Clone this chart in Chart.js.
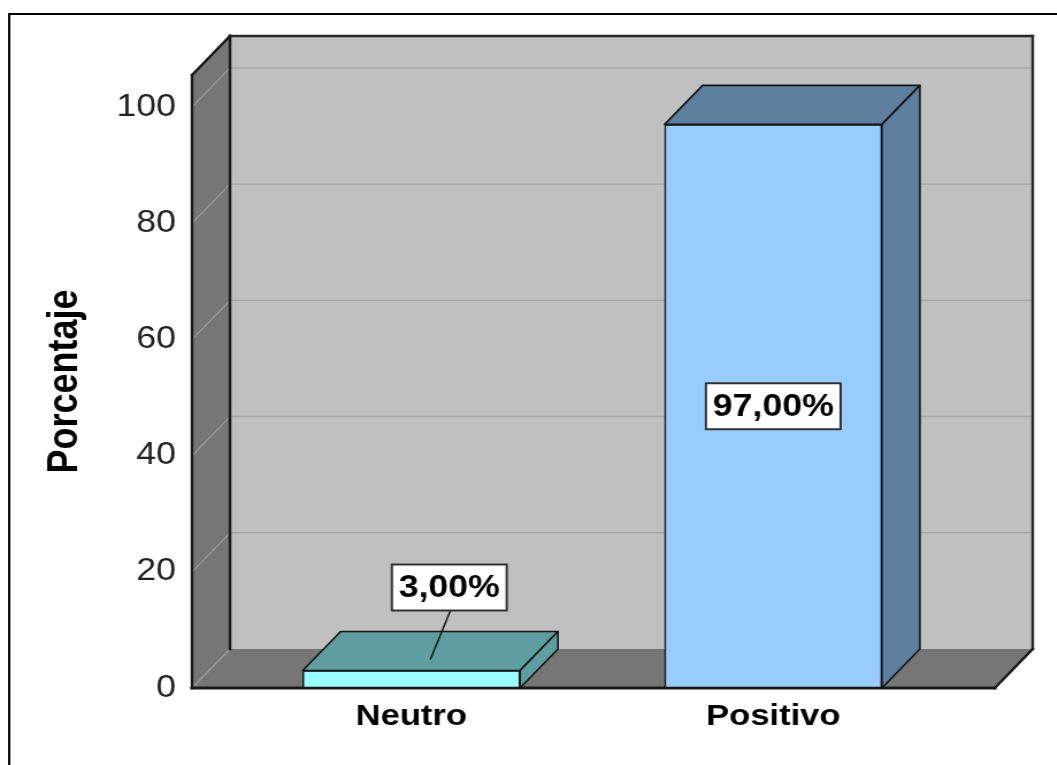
<!DOCTYPE html>
<html lang="es">
<head>
<meta charset="utf-8">
<title>Porcentaje por categoría</title>
<script src="https://cdn.jsdelivr.net/npm/chart.js@4.4.1/dist/chart.umd.min.js"></script>
<style>
  html, body { margin: 0; padding: 0; background: #ffffff; overflow: hidden; }
  /* The drawing is laid out on a narrower canvas and widened horizontally */
  #wrap { width: 919px; height: 765px; transform: scaleX(1.15); transform-origin: 0 0; }
  canvas { display: block; }
</style>
</head>
<body>
<div id="wrap"><canvas id="chart" width="919" height="765"></canvas></div>
<script>
// Data
const categories = ['Neutro', 'Positivo'];
const percentages = [3.0, 97.0];
const yTickValues = [0, 20, 40, 60, 80, 100];

// Styling
const frontColors = ['#99ffff', '#99ccff'];
const shadeColors = ['#5f9ea0', '#5e7e9e'];
const DEPTH = { dx: 33, dy: -39 };
const FONT = '"Liberation Sans", Arial, Helvetica, sans-serif';

function fillPoly(ctx, pts, fill, stroke, lw) {
  ctx.beginPath();
  pts.forEach(([px, py], k) => (k ? ctx.lineTo(px, py) : ctx.moveTo(px, py)));
  ctx.closePath();
  if (fill) { ctx.fillStyle = fill; ctx.fill(); }
  if (stroke) { ctx.strokeStyle = stroke; ctx.lineWidth = lw; ctx.lineJoin = 'round'; ctx.stroke(); }
}

function line(ctx, x1, y1, x2, y2, color, lw) {
  ctx.beginPath();
  ctx.moveTo(x1, y1);
  ctx.lineTo(x2, y2);
  ctx.strokeStyle = color;
  ctx.lineWidth = lw;
  ctx.stroke();
}

const box3d = {
  id: 'box3d',
  beforeDraw(chart) {
    const ctx = chart.ctx;
    ctx.save();
    ctx.fillStyle = '#ffffff';
    ctx.fillRect(0, 0, chart.width, chart.height);
    // outer frame
    ctx.strokeStyle = '#000000';
    ctx.lineWidth = 2;
    ctx.strokeRect(8, 14, chart.width + 40, chart.height + 40);
    ctx.restore();
  },
  beforeDatasetsDraw(chart) {
    const { ctx, chartArea: a, scales: { y } } = chart;
    const { dx, dy } = DEPTH;
    const L = a.left, R = a.right, T = a.top, B = a.bottom;
    ctx.save();
    // back wall, left wall, floor
    fillPoly(ctx, [[L + dx, T + dy], [R + dx, T + dy], [R + dx, B + dy], [L + dx, B + dy]], '#c0c0c0');
    fillPoly(ctx, [[L, T], [L + dx, T + dy], [L + dx, B + dy], [L, B]], '#767676');
    fillPoly(ctx, [[L, B], [L + dx, B + dy], [R + dx, B + dy], [R, B]], '#767676');
    // grid lines on the walls
    yTickValues.forEach(v => {
      const py = y.getPixelForValue(v);
      if (v > 0) line(ctx, L + dx, py + dy, R + dx, py + dy, '#a9a9a9', 1.5);
      line(ctx, L, py, L + dx, py + dy, '#9c9c9c', 1.2);
    });
    // wall edges
    ctx.lineCap = 'square';
    line(ctx, L, B, L, T, '#1a1a1a', 2.4);
    line(ctx, L, T, L + dx, T + dy, '#1a1a1a', 2.4);
    line(ctx, L + dx, T + dy, R + dx, T + dy, '#2a2a2a', 2.4);
    line(ctx, L + dx, T + dy, L + dx, B + dy, '#1a1a1a', 2.4);
    line(ctx, R + dx, T + dy, R + dx, B + dy, '#2a2a2a', 2.4);
    line(ctx, R + dx, B + dy, R, B, '#1a1a1a', 2.4);
    line(ctx, L, B, R, B, '#1a1a1a', 3);
    ctx.restore();
  },
  afterDatasetsDraw(chart) {
    const ctx = chart.ctx;
    const { dx, dy } = DEPTH;
    const meta = chart.getDatasetMeta(0);
    ctx.save();
    meta.data.forEach((bar, i) => {
      const { x, y: top, base, width } = bar.getProps(['x', 'y', 'base', 'width'], true);
      const xl = x - width / 2, xr = x + width / 2;
      // top and right faces
      fillPoly(ctx, [[xl, top], [xl + dx, top + dy], [xr + dx, top + dy], [xr, top]], shadeColors[i], '#151515', 1.6);
      fillPoly(ctx, [[xr, top], [xr + dx, top + dy], [xr + dx, base + dy], [xr, base]], shadeColors[i], '#151515', 1.6);
    });
    // value labels
    ctx.font = 'bold 31px ' + FONT;
    ctx.textAlign = 'center';
    ctx.textBaseline = 'middle';
    meta.data.forEach((bar, i) => {
      const { x, y: top, base } = bar.getProps(['x', 'y', 'base'], true);
      const text = percentages[i].toFixed(2).replace('.', ',') + '%';
      const w = ctx.measureText(text).width + 12;
      const h = 46;
      let cx = x, cy = (top + base) / 2;
      if (base - top < 60) {
        // short bar: label above, joined by a leader line
        cx = x + dx;
        cy = top - 83;
        line(ctx, cx + 1, cy + h / 2, x + dx / 2, top - 11, '#151515', 1.5);
      }
      ctx.fillStyle = '#ffffff';
      ctx.fillRect(cx - w / 2, cy - h / 2, w, h);
      ctx.strokeStyle = '#333333';
      ctx.lineWidth = 2;
      ctx.strokeRect(cx - w / 2, cy - h / 2, w, h);
      ctx.fillStyle = '#000000';
      ctx.fillText(text, cx, cy + 1);
    });
    ctx.restore();
  }
};

new Chart(document.getElementById('chart'), {
  type: 'bar',
  data: {
    datasets: [{
      label: 'Porcentaje',
      data: percentages.map((v, i) => ({ x: i + 1, y: v })),
      backgroundColor: frontColors,
      borderColor: '#151515',
      borderWidth: 1.6,
      borderSkipped: false,
      barThickness: 189
    }]
  },
  options: {
    responsive: false,
    animation: false,
    events: [],
    layout: { padding: { top: 75, right: 54, left: 0, bottom: 0 } },
    plugins: { legend: { display: false }, tooltip: { enabled: false } },
    scales: {
      x: {
        type: 'linear',
        offset: false,
        min: 0.394,
        max: 2.612,
        grid: { display: false, drawTicks: false },
        border: { display: false },
        afterBuildTicks: s => { s.ticks = categories.map((c, i) => ({ value: i + 1 })); },
        afterFit: s => { s.height = 77; },
        ticks: {
          padding: 11,
          color: '#000000',
          font: { family: FONT, size: 30, weight: 'bold' },
          callback: v => categories[v - 1] ?? ''
        }
      },
      y: {
        min: 0,
        max: 105.5,
        grid: { display: false, drawTicks: false },
        border: { display: false },
        afterBuildTicks: s => { s.ticks = yTickValues.map(v => ({ value: v })); },
        afterFit: s => { s.width = 167; },
        ticks: {
          padding: 14,
          color: '#222222',
          font: { family: FONT, size: 31 }
        },
        title: {
          display: true,
          text: 'Porcentaje',
          color: '#000000',
          font: { family: FONT, size: 36, weight: 'bold' },
          padding: { top: 35, bottom: 0 }
        }
      }
    }
  },
  plugins: [box3d]
});
</script>
</body>
</html>
